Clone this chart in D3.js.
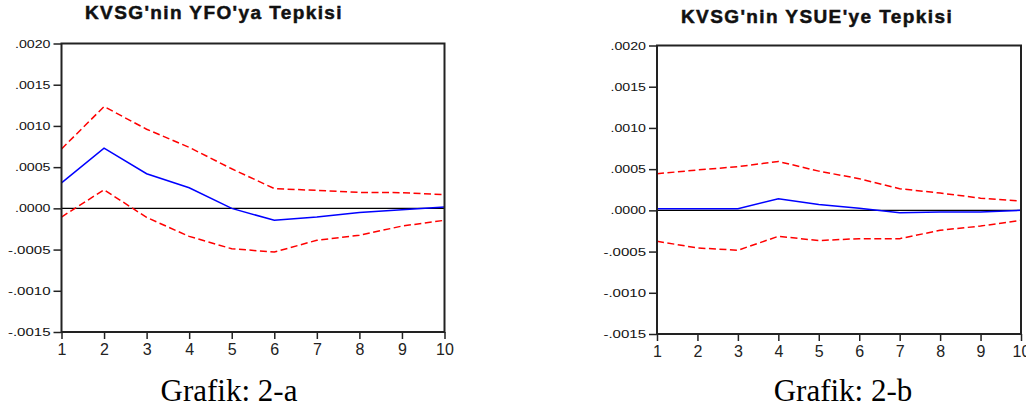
<!DOCTYPE html>
<html>
<head>
<meta charset="utf-8">
<script src="https://cdn.jsdelivr.net/npm/d3@7"></script>
<style>
  body { margin: 0; background: #fff; }
  svg { display: block; }
  .ytick text { font-family: "Liberation Sans", Arial, sans-serif; font-size: 11px; fill: #111; }
  .xtick text { font-family: "Liberation Sans", Arial, sans-serif; font-size: 16px; fill: #222; }
  .title { font-family: "Liberation Sans", Arial, sans-serif; font-weight: bold; font-size: 19px; letter-spacing: 1.4px; fill: #111; stroke: #111; stroke-width: 0.5px; }
  .caption { font-family: "Liberation Serif", "Times New Roman", serif; font-size: 31px; fill: #000; }
</style>
</head>
<body>
<div id="chart"></div>
<script>
// periods on the x axis
const periods = [1, 2, 3, 4, 5, 6, 7, 8, 9, 10];

// y ticks and their labels (same for both panels)
const yTicks = [-0.0015, -0.0010, -0.0005, 0, 0.0005, 0.0010, 0.0015, 0.0020];
const yTickLabels = ["-.0015", "-.0010", "-.0005", ".0000", ".0005", ".0010", ".0015", ".0020"];

// Grafik 2-a : KVSG'nin YFO'ya Tepkisi
const resp_a  = [0.00031, 0.00073, 0.00042, 0.00025, 0.00000, -0.000145, -0.000105, -0.00005, -0.000016, 0.000016];
const upper_a = [0.00072, 0.001235, 0.00096, 0.00074, 0.00048, 0.00024, 0.000218, 0.000194, 0.00019, 0.000166];
const lower_a = [-0.000105, 0.000226, -0.00011, -0.00034, -0.00049, -0.00053, -0.000387, -0.000327, -0.000215, -0.000145];

// Grafik 2-b : KVSG'nin YSUE'ye Tepkisi
const resp_b  = [0.00002, 0.00002, 0.00002, 0.00014, 0.00007, 0.000025, -0.00003, -0.00002, -0.00002, 0.0];
const upper_b = [0.000444, 0.00049, 0.00053, 0.000593, 0.000476, 0.000384, 0.000263, 0.00021, 0.000148, 0.000113];
const lower_b = [-0.000375, -0.000456, -0.000484, -0.000315, -0.000367, -0.000343, -0.000343, -0.000242, -0.00019, -0.000121];

const WIDTH = 1026, HEIGHT = 414;

const svg = d3.select("#chart").append("svg")
  .attr("width", WIDTH)
  .attr("height", HEIGHT);

// draws one impulse response panel
function drawPanel(p) {
  const X = d3.scaleLinear().domain([1, 10]).range([p.left, p.right]);
  const Y = d3.scaleLinear().domain([-0.0015, 0.0020]).range([p.bottom, p.top]);
  const g = svg.append("g");

  // y axis, labels stretched wide like the original bitmap font
  g.append("g")
    .attr("class", "ytick")
    .attr("transform", "translate(" + p.left + ",0)")
    .call(d3.axisLeft(Y).tickValues(yTicks).tickSize(8).tickPadding(3)
            .tickFormat((d, i) => yTickLabels[i]))
    .call(a => a.select(".domain").remove())
    .call(a => a.selectAll("line").attr("stroke", "#222").attr("stroke-width", 1.5))
    .call(a => a.selectAll("text")
      .attr("textLength", d => yTickLabels[yTicks.indexOf(d)].length * 7.1)
      .attr("lengthAdjust", "spacingAndGlyphs"));

  // x axis
  g.append("g")
    .attr("class", "xtick")
    .attr("transform", "translate(0," + p.bottom + ")")
    .call(d3.axisBottom(X).tickValues(periods).tickSize(7).tickPadding(5))
    .call(a => a.select(".domain").remove())
    .call(a => a.selectAll("line").attr("stroke", "#222").attr("stroke-width", 1.5));

  // zero line
  g.append("line")
    .attr("x1", p.left).attr("x2", p.right)
    .attr("y1", Y(0)).attr("y2", Y(0))
    .attr("stroke", "#000").attr("stroke-width", 1.4);

  const line = d3.line().x((d, i) => X(periods[i])).y(d => Y(d));

  // confidence bands
  [p.upper, p.lower].forEach(s => {
    g.append("path")
      .datum(s)
      .attr("d", line)
      .attr("fill", "none")
      .attr("stroke", "#ff0000")
      .attr("stroke-width", 1.5)
      .attr("stroke-dasharray", "7,3.5");
  });

  // response
  g.append("path")
    .datum(p.resp)
    .attr("d", line)
    .attr("fill", "none")
    .attr("stroke", "#0000ff")
    .attr("stroke-width", 1.5);

  // frame
  g.append("rect")
    .attr("x", p.left).attr("y", p.top)
    .attr("width", p.right - p.left).attr("height", p.bottom - p.top)
    .attr("fill", "none")
    .attr("stroke", "#222")
    .attr("stroke-width", 2);

  g.append("text")
    .attr("class", "title")
    .attr("x", p.titleX).attr("y", p.titleY)
    .attr("text-anchor", "middle")
    .text(p.title);

  g.append("text")
    .attr("class", "caption")
    .attr("x", p.captionX).attr("y", 401)
    .attr("text-anchor", "middle")
    .text(p.caption);
}

drawPanel({
  left: 61.5, right: 444.5, top: 43.5, bottom: 332,
  resp: resp_a, upper: upper_a, lower: lower_a,
  title: "KVSG'nin YFO'ya Tepkisi", titleX: 214, titleY: 19,
  caption: "Grafik: 2-a", captionX: 229
});

drawPanel({
  left: 657, right: 1021, top: 45.5, bottom: 334,
  resp: resp_b, upper: upper_b, lower: lower_b,
  title: "KVSG'nin YSUE'ye Tepkisi", titleX: 817, titleY: 23,
  caption: "Grafik: 2-b", captionX: 843
});
</script>
</body>
</html>
